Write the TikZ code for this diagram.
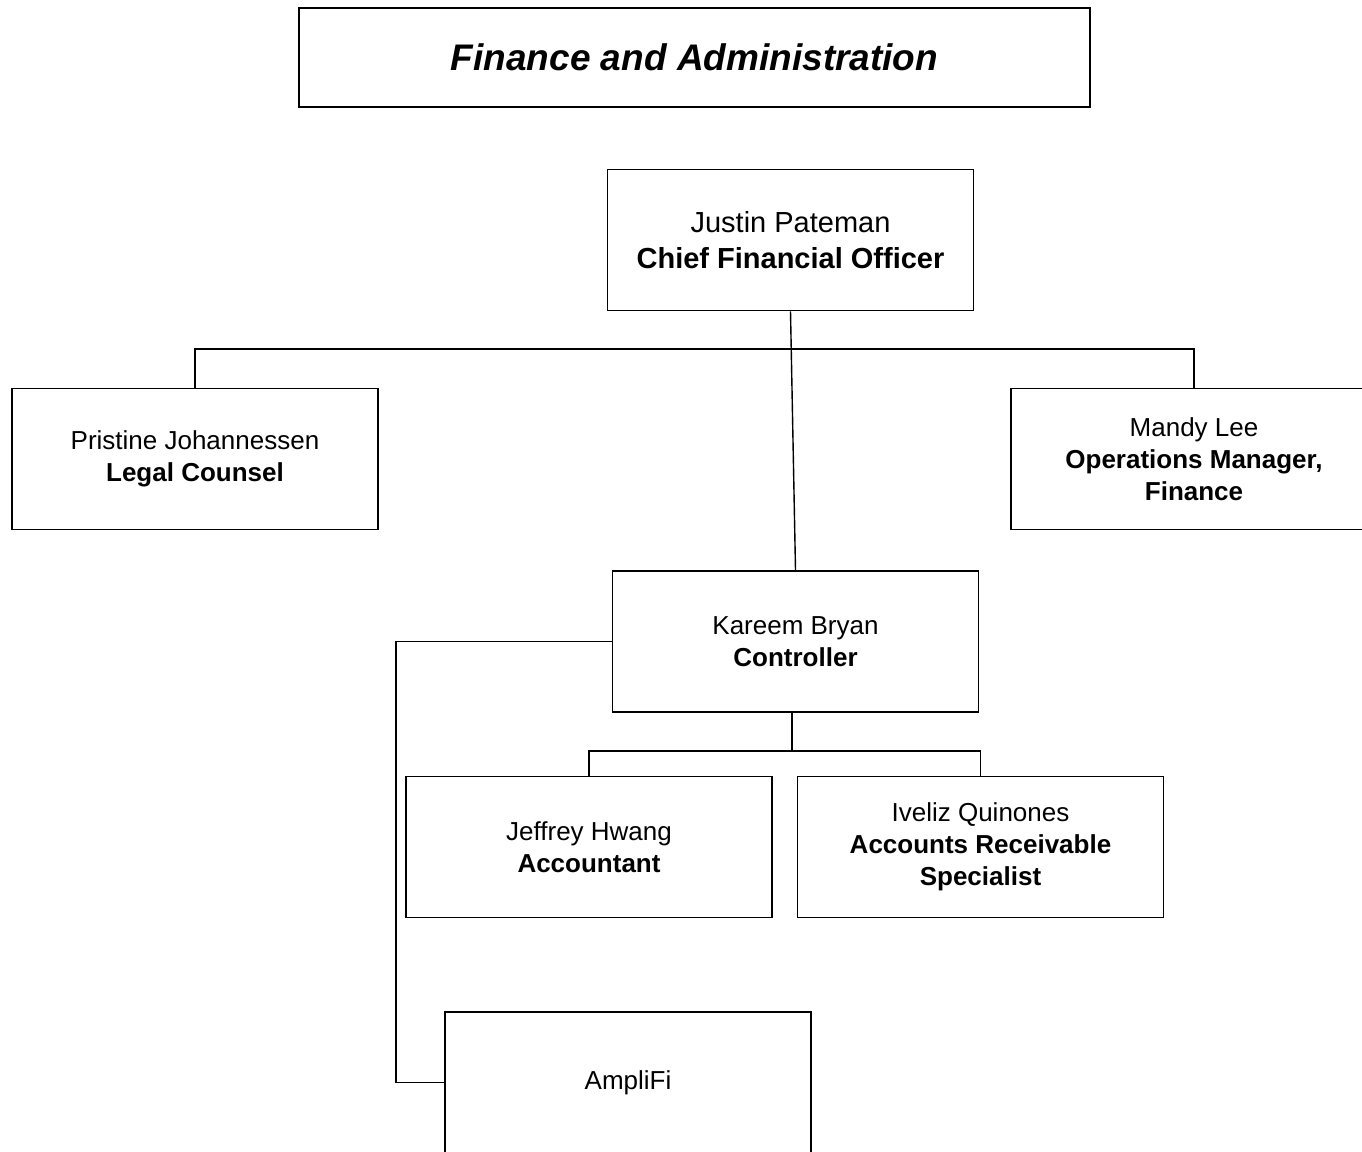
\documentclass[tikz,border=0pt]{standalone}
\usepackage{fontspec}
\setmainfont{Liberation Sans}
\begin{document}
\begin{tikzpicture}[x=1pt,y=-1pt,
  box/.style={draw, line width=1.6pt, minimum width=366pt, minimum height=141pt, inner sep=0pt, align=center, font=\fontsize{26}{32}\selectfont},
  bigbox/.style={box, font=\fontsize{29}{36}\selectfont},
  conn/.style={line width=1.4pt}]
\useasboundingbox (0,0) rectangle (1362,1151);
\node[draw, line width=1.6pt, minimum width=791pt, minimum height=99pt, inner sep=0pt, font=\fontsize{37}{40}\selectfont\bfseries\itshape] (title) at (694.5,57.5) {Finance and Administration};
\node[bigbox] (cfo) at (790.5,240) {Justin Pateman\\\textbf{Chief Financial Officer}};
\node[box] (legal) at (195,459) {Pristine Johannessen\\\textbf{Legal Counsel}};
\node[box] (mandy) at (1194,459) {Mandy Lee\\\textbf{Operations Manager,}\\\textbf{Finance}};
\node[box] (ctrl) at (795.5,641.5) {Kareem Bryan\\\textbf{Controller}};
\node[box] (jeff) at (589,847) {Jeffrey Hwang\\\textbf{Accountant}};
\node[box] (ivel) at (980.5,847) {Iveliz Quinones\\\textbf{Accounts Receivable}\\\textbf{Specialist}};
\node[box] (ampl) at (628,1082.5) {AmpliFi};
\coordinate (b1) at (791,349);
\coordinate (b2) at (792,751);
\coordinate (lc) at (396,641.5);
\draw[conn] (cfo.south) -- (ctrl.north);
\draw[conn] (legal.north) |- (b1) -| (mandy.north);
\draw[conn] (b2 |- ctrl.south) -- (b2);
\draw[conn] (jeff.north) |- (b2) -| (ivel.north);
\draw[conn] (ctrl.west) -- (lc) |- (ampl.west);
\end{tikzpicture}
\end{document}
